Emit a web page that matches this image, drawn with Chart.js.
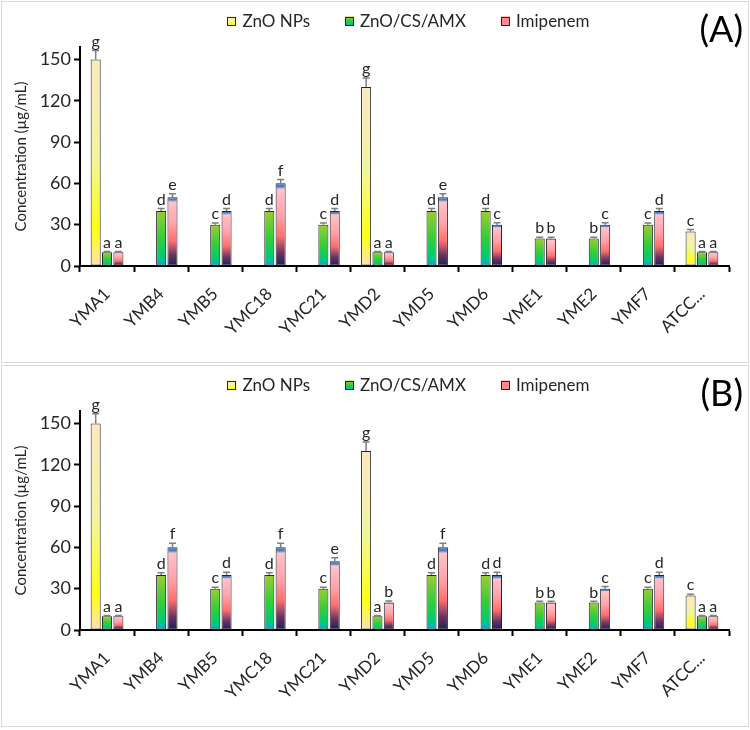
<!DOCTYPE html>
<html>
<head>
<meta charset="utf-8">
<script src="https://cdn.jsdelivr.net/npm/chart.js@4.4.1/dist/chart.umd.min.js"></script>
<style>
  body { margin: 0; background: #fff; width: 750px; height: 730px; position: relative; overflow: hidden; }
  .panel { position: absolute; left: 1px; width: 746px; height: 360px; border: 1px solid #d9d9d9; background: #fff; }
  #panelA { top: 1px; }
  #panelB { top: 365px; }
  canvas { display: block; }
</style>
</head>
<body>
<div class="panel" id="panelA"><canvas id="chartA" width="746" height="360"></canvas></div>
<div class="panel" id="panelB"><canvas id="chartB" width="746" height="360"></canvas></div>
<script>
// strains on the x axis
const strains = ['YMA1', 'YMB4', 'YMB5', 'YMC18', 'YMC21', 'YMD2', 'YMD5', 'YMD6', 'YME1', 'YME2', 'YMF7', 'ATCC...'];
const seriesNames = ['ZnO NPs', 'ZnO/CS/AMX', 'Imipenem'];
const yTicks = [0, 30, 60, 90, 120, 150];
const yMax = 159;

// ---- panel (A) ----
const znoA = [150, null, null, null, null, 130, null, null, null, null, null, 25];
const amxA = [10, 40, 30, 40, 30, 10, 40, 40, 20, 20, 30, 10];
const imiA = [10, 50, 40, 60, 40, 10, 50, 30, 20, 30, 40, 10];
const znoErrA = [6.5, null, null, null, null, 6.5, null, null, null, null, null, 1.5];
const amxErrA = [0.6, 1.8, 1.3, 1.8, 1.3, 0.6, 1.8, 1.8, 0.9, 0.9, 1.3, 0.6];
const imiErrA = [0.6, 2.5, 1.8, 2.8, 1.8, 0.6, 2.5, 1.4, 0.9, 1.4, 1.8, 0.6];
const znoLetA = ['g', '', '', '', '', 'g', '', '', '', '', '', 'c'];
const amxLetA = ['a', 'd', 'c', 'd', 'c', 'a', 'd', 'd', 'b', 'b', 'c', 'a'];
const imiLetA = ['a', 'e', 'd', 'f', 'd', 'a', 'e', 'c', 'b', 'c', 'd', 'a'];

// ---- panel (B) ----
const znoB = [150, null, null, null, null, 130, null, null, null, null, null, 25];
const amxB = [10, 40, 30, 40, 30, 10, 40, 40, 20, 20, 30, 10];
const imiB = [10, 60, 40, 60, 50, 20, 60, 40, 20, 30, 40, 10];
const znoErrB = [7, null, null, null, null, 6.5, null, null, null, null, null, 1];
const amxErrB = [0.5, 1.5, 1, 1.5, 1, 0.5, 1.5, 1.5, 0.8, 0.8, 1, 0.5];
const imiErrB = [0.5, 3, 2, 3, 2.5, 1, 3, 2, 0.8, 1.5, 2, 0.5];
const znoLetB = ['g', '', '', '', '', 'g', '', '', '', '', '', 'c'];
const amxLetB = ['a', 'd', 'c', 'd', 'c', 'a', 'd', 'd', 'b', 'b', 'c', 'a'];
const imiLetB = ['a', 'f', 'd', 'f', 'e', 'b', 'f', 'd', 'b', 'c', 'd', 'a'];

const FONT = 'Lato, "Open Sans", sans-serif';
const TXT = '#262626';

// gradient stops, top of bar -> bottom of bar
const yellowStops = [[0, '#fce8c2'], [0.45, '#f1f5a2'], [0.83, '#ffff12'], [1, '#fde2b0']];
const greenStops = [[0, '#9ccc34'], [0.5, '#34cc3a'], [0.82, '#00cc70'], [1, '#00a8e2']];
const pinkStops = [[0, '#4a7ec4'], [0.04, '#4a7ec4'], [0.07, '#ffc2ca'], [0.4, '#ffa0a8'], [0.64, '#ff6e6e'], [0.84, '#6a3460'], [1, '#1c1e5c']];

function barGradient(stops) {
    return function (ctx) {
        const chart = ctx.chart;
        if (ctx.type !== 'data' || !chart.chartArea || !ctx.parsed) return stops[0][1];
        const v = ctx.parsed.y;
        if (v == null) return stops[0][1];
        const ys = chart.scales.y;
        const top = ys.getPixelForValue(v), bot = ys.getPixelForValue(0);
        if (!isFinite(top) || !isFinite(bot) || top === bot) return stops[0][1];
        const g = chart.ctx.createLinearGradient(0, top, 0, bot);
        stops.forEach(s => g.addColorStop(s[0], s[1]));
        return g;
    };
}

const stopSets = [yellowStops, greenStops, pinkStops];

// error bars, letters, legend row, panel tag
const extras = {
    id: 'extras',
    afterDatasetsDraw(chart, args, opts) {
        const c = chart.ctx, ys = chart.scales.y, area = chart.chartArea;
        c.save();
        chart.data.datasets.forEach((ds, i) => {
            const meta = chart.getDatasetMeta(i);
            meta.data.forEach((bar, j) => {
                const v = ds.data[j];
                if (v == null) return;
                const top = ys.getPixelForValue(v + (ds.errors[j] || 0));
                c.strokeStyle = '#7f7f7f';
                c.lineWidth = 1.5;
                c.beginPath();
                c.moveTo(bar.x, bar.y);
                c.lineTo(bar.x, top);
                c.moveTo(bar.x - 3.5, top);
                c.lineTo(bar.x + 3.5, top);
                c.stroke();
                c.fillStyle = TXT;
                c.font = '16px ' + FONT;
                c.textAlign = 'center';
                c.textBaseline = 'bottom';
                c.fillText(ds.letters[j], bar.x, top - 1);
            });
        });

        // legend
        c.font = '17px ' + FONT;
        const box = 9, gap = 35;
        const widths = chart.data.datasets.map(ds => box + 6 + c.measureText(ds.label).width);
        const total = widths.reduce((a, b) => a + b, 0) + gap * (widths.length - 1);
        let x = (area.left + area.right) / 2 + 4 - total / 2;
        const y = 19;
        chart.data.datasets.forEach((ds, i) => {
            const g = c.createLinearGradient(0, y - box / 2, 0, y + box / 2);
            stopSets[i].forEach(s => g.addColorStop(s[0], s[1]));
            c.fillStyle = i === 2 ? '#ff8a8e' : g;
            c.fillRect(x, y - box / 2, box, box);
            c.strokeStyle = TXT;
            c.lineWidth = 1;
            c.strokeRect(Math.round(x) + 0.5, Math.round(y - box / 2) + 0.5, box - 1, box - 1);
            c.fillStyle = TXT;
            c.textAlign = 'left';
            c.textBaseline = 'middle';
            c.fillText(ds.label, x + box + 6, y + 1);
            x += widths[i] + gap;
        });

        // panel tag
        c.font = '36px ' + FONT;
        c.textAlign = 'right';
        c.textBaseline = 'middle';
        c.fillStyle = '#000';
        c.fillText(opts.tag, 741, 28);
        c.restore();
    }
};

function makeChart(id, tag, series, errs, lets) {
    const datasets = series.map((d, i) => ({
        label: seriesNames[i],
        data: d,
        errors: errs[i],
        letters: lets[i],
        backgroundColor: barGradient(stopSets[i]),
        borderColor: '#262626',
        borderWidth: 1,
        borderSkipped: false,
        categoryPercentage: 0.63,
        barPercentage: 0.885
    }));

    new Chart(document.getElementById(id), {
        type: 'bar',
        data: { labels: strains, datasets: datasets },
        options: {
            responsive: false,
            animation: false,
            layout: { padding: { top: 45, right: 19, left: 0, bottom: 0 } },
            plugins: {
                legend: { display: false },
                tooltip: { enabled: false },
                extras: { tag: tag }
            },
            scales: {
                x: {
                    afterFit: a => { a.height = 96; },
                    border: { display: true, color: '#000', width: 2 },
                    grid: { display: true, offset: true, drawOnChartArea: false, drawTicks: true, tickLength: 6, tickColor: '#000', tickWidth: 2 },
                    ticks: { color: TXT, font: { family: FONT, size: 17 }, maxRotation: 45, minRotation: 45, padding: 12, autoSkip: false }
                },
                y: {
                    min: 0,
                    max: yMax,
                    afterBuildTicks: a => { a.ticks = yTicks.map(v => ({ value: v })); },
                    afterFit: a => { a.width = 78; },
                    border: { display: true, color: '#000', width: 2 },
                    grid: { display: true, drawOnChartArea: false, drawTicks: true, tickLength: 6, tickColor: '#000', tickWidth: 2 },
                    ticks: { color: TXT, font: { family: FONT, size: 18 }, padding: 3 },
                    title: { display: true, text: 'Concentration (µg/mL)', color: TXT, font: { family: FONT, size: 15 }, padding: { top: 10, bottom: 0 } }
                }
            }
        },
        plugins: [extras]
    });
}

makeChart('chartA', '(A)', [znoA, amxA, imiA], [znoErrA, amxErrA, imiErrA], [znoLetA, amxLetA, imiLetA]);
makeChart('chartB', '(B)', [znoB, amxB, imiB], [znoErrB, amxErrB, imiErrB], [znoLetB, amxLetB, imiLetB]);
</script>
</body>
</html>
